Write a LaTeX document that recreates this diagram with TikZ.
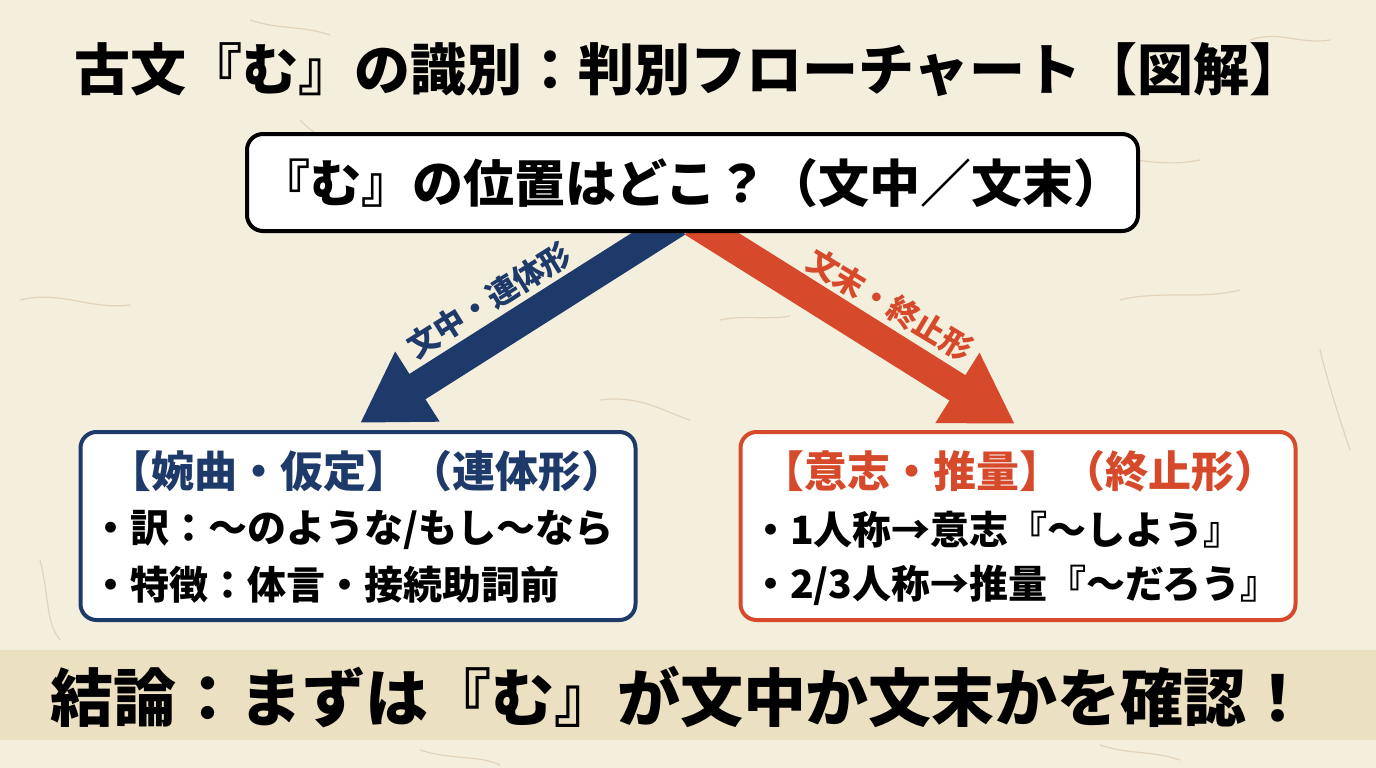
\documentclass[tikz,border=0pt]{standalone}
\usepackage{fontspec}
\setmainfont{Noto Sans CJK JP}
\IfFontExistsTF{Noto Sans CJK JP Black}
  {\newfontfamily\heavy{Noto Sans CJK JP Black}}
  {\newfontfamily\heavy{Noto Sans CJK JP}[FakeBold=1.5]}
\usetikzlibrary{arrows.meta,calc}
\definecolor{paper}{HTML}{F4EEDD}
\definecolor{band}{HTML}{ECE0C3}
\definecolor{fiber}{HTML}{C9B48E}
\definecolor{navy}{HTML}{1E3A6B}
\definecolor{rust}{HTML}{D64A2B}
\newcommand{\fs}[1]{\fontsize{#1}{#1}\selectfont\bfseries}
\newcommand{\hv}[1]{\fontsize{#1}{#1}\heavy}
\tikzset{
  txt/.style={inner sep=0pt, outer sep=0pt},
  panel/.style={draw, fill=white, line width=4pt, rounded corners=16pt, inner sep=0pt},
  bigarrow/.style={line width=30pt, -{Triangle[width=78pt,length=68pt]}},
  fib/.style={draw=fiber, line width=1.2pt, opacity=0.45, line cap=round},
}
\begin{document}
\begin{tikzpicture}[x=1pt,y=-1pt]
\useasboundingbox (0,0) rectangle (1376,768);
\fill[paper] (0,0) rectangle (1376,768);
% paper fibres
\draw[fib] (20,300) .. controls (60,290) and (90,310) .. (130,305);
\draw[fib] (300,120) .. controls (320,140) and (340,150) .. (360,150);
\draw[fib] (1080,160) .. controls (1120,150) and (1150,170) .. (1200,160);
\draw[fib] (1120,300) .. controls (1160,290) and (1200,300) .. (1240,290);
\draw[fib] (40,560) .. controls (50,600) and (45,620) .. (60,640);
\draw[fib] (1320,350) .. controls (1330,390) and (1340,420) .. (1350,450);
\draw[fib] (600,400) .. controls (640,395) and (660,410) .. (690,420);
\draw[fib] (250,20) .. controls (280,30) and (300,25) .. (330,35);
\draw[fib] (1250,40) .. controls (1280,30) and (1300,45) .. (1330,40);
\draw[fib] (720,320) .. controls (740,315) and (770,320) .. (790,316);
\draw[fib] (420,750) .. controls (450,760) and (480,755) .. (500,765);
\draw[fib] (1100,745) .. controls (1130,755) and (1150,750) .. (1180,760);
% bottom band
\fill[band] (0,650) rectangle (1376,740);
% title
\node[txt] (title) at (690,70) {\hv{56}古文『む』の識別：判別フローチャート【図解】};
% arrows
\coordinate (bstart) at (677,222);
\coordinate (btip) at (360,423);
\coordinate (rstart) at (693,222);
\coordinate (rtip) at (1015,424);
\draw[bigarrow, navy] (bstart) -- (btip);
\draw[bigarrow, rust] (rstart) -- (rtip);
\node[txt, navy, rotate=32] (blabel) at (489,300) {\fs{31}文中・連体形};
\node[txt, rust, rotate=-31] (rlabel) at (890,305) {\fs{31}文末・終止形};
% top box
\node[panel, draw=black, minimum width=891pt, minimum height=97pt] (top) at (692.5,182.5) {};
\node[txt] (toptext) at (692,183) {\hv{51}『む』の位置はどこ？（文中／文末）};
% left box
\node[panel, draw=navy, minimum width=555pt, minimum height=188pt] (lbox) at (358,526) {};
\node[txt, navy] (ltitle) at (366,471) {\fs{43}【婉曲・仮定】（連体形）};
\node[txt, anchor=west] (l1) at (91,530) {\fs{39}・訳：〜のような/もし〜なら};
\node[txt, anchor=west] (l2) at (91,585) {\fs{39}・特徴：体言・接続助詞前};
% right box
\node[panel, draw=rust, minimum width=555pt, minimum height=188pt] (rbox) at (1018,526) {};
\node[txt, rust] (rtitle) at (1019,471) {\fs{43}【意志・推量】（終止形）};
\node[txt, anchor=west] (r1) at (751,530) {\fs{39}・1人称→意志『〜しよう』};
\node[txt, anchor=west] (r2) at (751,585) {\fs{39}・2/3人称→推量『〜だろう』};
% conclusion
\node[txt] (concl) at (680,697) {\hv{63}結論：まずは『む』が文中か文末かを確認！};
\end{tikzpicture}
\end{document}
